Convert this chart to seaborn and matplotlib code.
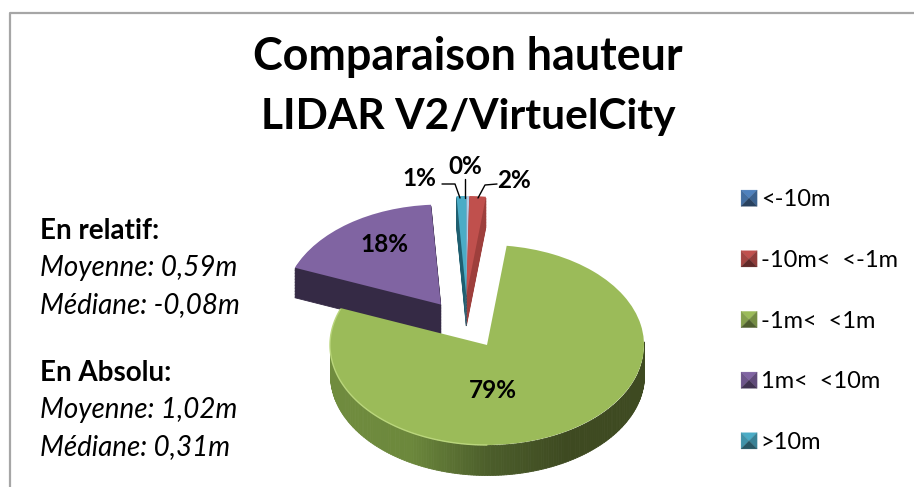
import numpy as np
import matplotlib
matplotlib.use("Agg")
import matplotlib.pyplot as plt
import seaborn as sns
from matplotlib.legend_handler import HandlerBase
from matplotlib.lines import Line2D
from matplotlib.patches import Patch, Polygon
from matplotlib.transforms import Affine2D

# ---- data ----
categories = ["<-10m", "-10m<  <-1m", "-1m<  <1m", "1m<  <10m", ">10m"]
shares = [0.3, 1.7, 79.0, 18.0, 1.0]
title_lines = ["Comparaison hauteur", "LIDAR V2/VirtuelCity"]
face_colors = ["#B4CBE6", "#C0504D", "#9BBB59", "#8064A2", "#4BACC6"]
wall_colors = ["#7F9CC0", "#9E3F3C", "#3E4A21", "#352A45", "#1F5F70"]
legend_colors = ["#4F81BD", "#C0504D", "#9BBB59", "#8064A2", "#4BACC6"]
stat_blocks = [
    ("En relatif:", "Moyenne: 0,59m", "Médiane: -0,08m"),
    ("En Absolu:", "Moyenne: 1,02m", "Médiane: 0,31m"),
]

W, H = 914, 487
sns.set_theme(style="white")
plt.rcParams["font.family"] = ["Lato", "DejaVu Sans"]

fig = plt.figure(figsize=(W / 100, H / 100), dpi=100, facecolor="white")
ax = fig.add_axes([0, 0, 1, 1])
px = Affine2D().scale(1, -1).translate(0, H)   # pixel coordinates for layout

# ellipse of the tilted pie, in pixels
CX, CY, RX, RY, DEPTH = 487, 345, 157, 100, 30


def to_data(x, y):
    return ((x - CX) / RX, (CY - y) / RY)


def draw_pie(indices, centre_px, explode=0.0, step=1.5):
    """Draw the chosen slices with a wall (stacked copies) below the top face."""
    cx, cy = to_data(*centre_px)
    expl = [explode if i in indices else 0 for i in range(len(shares))]
    for k in np.arange(DEPTH, -0.01, -step):
        cols = wall_colors if k > 0 else face_colors
        wedges, _ = ax.pie(shares, colors=cols, startangle=90, counterclock=False,
                           explode=expl, center=(cx, cy - k / RY), radius=1,
                           wedgeprops=dict(linewidth=0), normalize=True)
        for i, w in enumerate(wedges):
            w.set_visible(i in indices)
            w.set_zorder(2)
            if k > 0:
                w.set_linewidth(0.6)
                w.set_edgecolor(cols[i])


# ---- green slice, gradient outer wall ----
fractions = np.cumsum([0] + shares) / sum(shares) * 360
green_end = fractions[3]
side = sns.blend_palette(["#708C3E", "#6C883C", "#4C5E2B", "#3E4A21", "#3E4A21"], as_cmap=True)
angles = np.radians(np.arange(88, green_end + 0.01, 1.0))
for a0, a1 in zip(angles[:-1], angles[1:]):
    xs = np.array([np.sin(a0), np.sin(a1)])
    ys = np.array([np.cos(a0), np.cos(a1)])
    c = side((xs.mean() + 1) / 2)
    ax.fill_between(xs, ys, ys - DEPTH / RY, color=c, linewidth=0.6, zorder=1)

wedges, _ = ax.pie(shares, colors=face_colors, startangle=90, counterclock=False,
                   wedgeprops=dict(linewidth=0), normalize=True)
for i, w in enumerate(wedges):
    w.set_visible(i == 2)
    w.set_zorder(3)

rim = np.radians(np.arange(180, green_end, 1.0))
ax.plot(np.sin(rim), np.cos(rim), color="#BAD67C", lw=1, zorder=4)

# ---- exploded slices ----
draw_pie([3], (CX, CY), explode=0.5)
draw_pie([0, 1, 4], (466.3, 296))

ax.set_aspect("auto")
ax.set_xlim(to_data(0, 0)[0], to_data(W, 0)[0])
ax.set_ylim(to_data(0, H)[1], to_data(0, 0)[1])
ax.axis("off")

# ---- percentage labels ----
label_at = [(465, 166), (514, 181), (493, 391), (384, 244), (419, 179)]
for share, (x, y) in zip(shares, label_at):
    ax.text(x, y, f"{share:.0f}%", transform=px, ha="center", va="center",
            fontsize=17.5, fontweight="bold", color="black", zorder=6)

ax.add_line(Line2D([465.3, 465.3], [179, 198], transform=px, color="black", lw=1, zorder=6))
ax.add_line(Line2D([442, 455, 460], [184, 184, 198], transform=px, color="black", lw=1, zorder=6))
ax.add_line(Line2D([497, 485, 478], [184, 185, 198], transform=px, color="black", lw=1, zorder=6))

# ---- title ----
for line, y, size in zip(title_lines, [57, 117], [32.3, 30.6]):
    ax.text(468, y, line, transform=px, ha="center", va="center",
            fontsize=size, fontweight="bold", color="black")

# ---- left-hand notes ----
for (head, l1, l2), y0 in zip(stat_blocks, [231, 373]):
    ax.text(40, y0, head, transform=px, va="center", fontsize=20, fontweight="bold", color="black")
    ax.text(40, y0 + 37, l1, transform=px, va="center", fontsize=20, style="italic", color="black")
    ax.text(40, y0 + 74, l2, transform=px, va="center", fontsize=20, style="italic", color="black")


# ---- legend with bevelled keys ----
class BevelHandler(HandlerBase):
    def create_artists(self, legend, handle, xdescent, ydescent, width, height, fontsize, trans):
        base = np.array(handle.get_facecolor()[:3])
        x0, y0 = -xdescent, -ydescent
        x1, y1 = x0 + width, y0 + height
        mx, my = (x0 + x1) / 2, (y0 + y1) / 2
        art = []
        parts = [
            ([(x0, y1), (x1, y1), (mx, my)], 1.0),
            ([(x0, y0), (x0, y1), (mx, my)], 0.85),
            ([(x1, y0), (x1, y1), (mx, my)], 0.75),
            ([(x0, y0), (x1, y0), (mx, my)], 0.5),
        ]
        for pts, f in parts:
            art.append(Polygon(pts, closed=True, transform=trans, linewidth=0.2,
                               facecolor=base * f, edgecolor=base * f))
        return art


handles = [Patch(facecolor=c) for c in legend_colors]
leg = fig.legend(handles, categories, loc="upper left", frameon=False, fontsize=17,
                 bbox_to_anchor=(731.6 / W, 1 - 180 / H), borderaxespad=0, borderpad=0.4,
                 handlelength=0.68, handleheight=0.68, handletextpad=0.15, labelspacing=1.68,
                 handler_map={Patch: BevelHandler()}, labelcolor="black")

# ---- frame (top and left edges are inside the crop) ----
fig.add_artist(Line2D([9.5, 9.5, W], [H, 12.5, 12.5], transform=px, color="#A6A6A6", lw=1.6))

fig.savefig("out.png", dpi=100, facecolor="white")
